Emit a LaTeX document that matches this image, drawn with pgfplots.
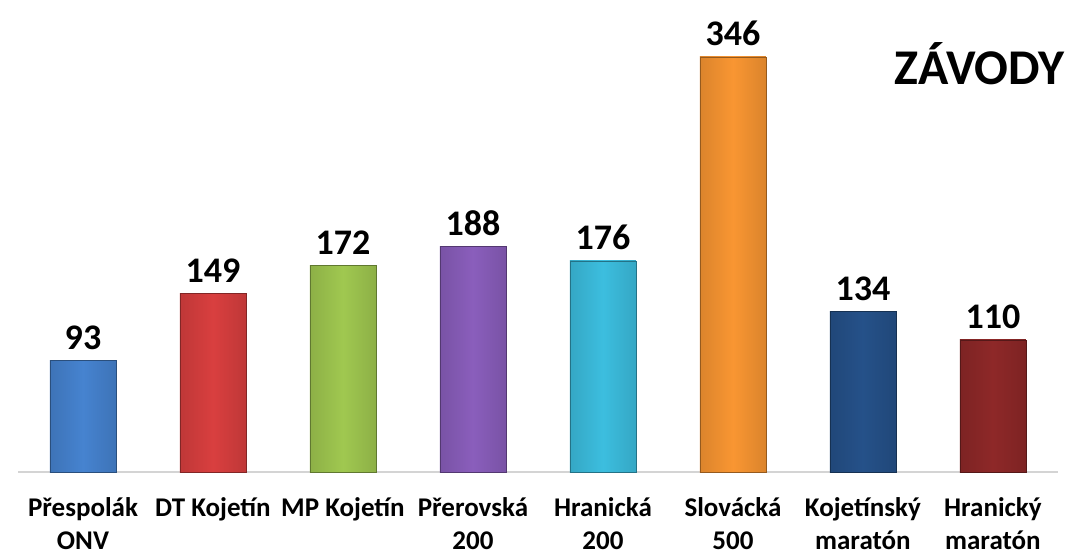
\documentclass[border=0pt]{standalone}
\usepackage{fontspec}
\setmainfont{Carlito}
\usepackage{pgfplots}
\pgfplotsset{compat=1.18}
\definecolor{c1}{HTML}{4683D0}
\definecolor{c2}{HTML}{D93F3F}
\definecolor{c3}{HTML}{A0C850}
\definecolor{c4}{HTML}{8A5EBC}
\definecolor{c5}{HTML}{3CBEDF}
\definecolor{c6}{HTML}{F99632}
\definecolor{c7}{HTML}{255189}
\definecolor{c8}{HTML}{8E2828}
\begin{document}
\begin{tikzpicture}[x=1pt,y=1pt]
\useasboundingbox (0,0) rectangle (1073,554);
\begin{axis}[
  at={(18pt,82pt)}, anchor=south west,
  scale only axis, width=1040pt, height=472pt,
  xmin=-0.5, xmax=7.5, ymin=0, ymax=393.33,
  axis x line*=bottom, axis y line=none,
  x axis line style={-, draw=black!17, line width=2pt},
  xtick={0,...,7}, major tick length=0pt,
  xticklabels={{Přespolák\\ONV},{DT Kojetín\\\mbox{}},{MP Kojetín\\\mbox{}},{Přerovská\\200},{Hranická\\200},{Slovácká\\500},{Kojetínský\\maratón},{Hranický\\maratón}},
  xticklabel style={align=center, anchor=base, inner sep=0pt, yshift=-77pt,
    font=\fontsize{27}{33}\selectfont\bfseries},
  /pgf/number format/assume math mode=true,
  ybar, bar width=66pt, bar shift=0pt,
  nodes near coords,
  every node near coord/.append style={anchor=base, inner sep=0pt, yshift=11pt,
    font=\fontsize{36}{36}\selectfont\bfseries, text=black},
  clip=false,
]
\addplot[draw=c1!60!black, left color=c1!88!black, right color=c1!88!black, middle color=c1] coordinates {(0,93)};
\addplot[draw=c2!60!black, left color=c2!88!black, right color=c2!88!black, middle color=c2] coordinates {(1,149)};
\addplot[draw=c3!60!black, left color=c3!88!black, right color=c3!88!black, middle color=c3] coordinates {(2,172)};
\addplot[draw=c4!60!black, left color=c4!88!black, right color=c4!88!black, middle color=c4] coordinates {(3,188)};
\addplot[draw=c5!60!black, left color=c5!88!black, right color=c5!88!black, middle color=c5] coordinates {(4,176)};
\addplot[draw=c6!60!black, left color=c6!88!black, right color=c6!88!black, middle color=c6] coordinates {(5,346)};
\addplot[draw=c7!60!black, left color=c7!88!black, right color=c7!88!black, middle color=c7] coordinates {(6,134)};
\addplot[draw=c8!60!black, left color=c8!88!black, right color=c8!88!black, middle color=c8] coordinates {(7,110)};
\end{axis}
\node[anchor=base east, inner sep=0pt, font=\fontsize{50}{50}\selectfont\bfseries] at (1065,469) {ZÁVODY};
\end{tikzpicture}
\end{document}
